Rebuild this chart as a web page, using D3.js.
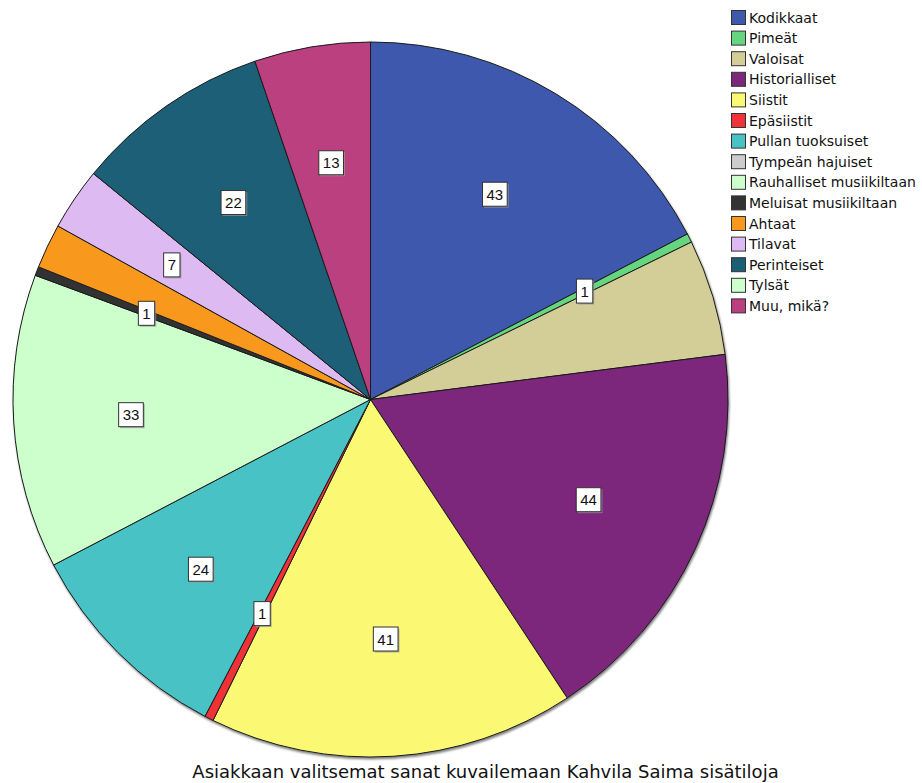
<!DOCTYPE html>
<html><head><meta charset="utf-8">
<script src="https://cdn.jsdelivr.net/npm/d3@7"></script>
<style>body{margin:0;background:#fff;} svg text{font-family:"DejaVu Sans",sans-serif;} svg text.lbl{font-family:Arial,"Liberation Sans",sans-serif;}</style>
</head><body><svg id="c" width="922" height="783"></svg>
<script>
const categories = ["Kodikkaat","Pimeät","Valoisat","Historialliset","Siistit","Epäsiistit","Pullan tuoksuiset","Tympeän hajuiset","Rauhalliset musiikiltaan","Meluisat musiikiltaan","Ahtaat","Tilavat","Perinteiset","Tylsät","Muu, mikä?"];
const values = [43,1,13,44,41,1,24,0,33,1,5,7,22,0,13];
const colors = ["#3e58ac","#66d57f","#d3ce97","#7b287c","#fbf873","#ef3338","#48c2c5","#cccccc","#ccffcc","#333333","#f8981d","#ddbaf1","#1a5f76","#ccffcc","#bb3f7f"];
const showLabel = [true,true,false,true,true,true,true,false,true,true,false,true,true,false,true];
const title = "Asiakkaan valitsemat sanat kuvailemaan Kahvila Saima sisätiloja";

const svg = d3.select("#c");
const cx = 370.5, cy = 399.5, R = 357.5, LR = 240;

const defs = svg.append("defs");
const f = defs.append("filter").attr("id","sh").attr("x","-10%").attr("y","-10%").attr("width","120%").attr("height","120%");
f.append("feGaussianBlur").attr("in","SourceAlpha").attr("stdDeviation",1.2).attr("result","b");
f.append("feOffset").attr("in","b").attr("dx",1).attr("dy",1.5).attr("result","o");
f.append("feComponentTransfer").attr("in","o").attr("result","o2").append("feFuncA").attr("type","linear").attr("slope",0.5);
const m = f.append("feMerge"); m.append("feMergeNode").attr("in","o2"); m.append("feMergeNode").attr("in","SourceGraphic");

const data = categories.map((c,i)=>({cat:c, v:values[i], color:colors[i], show:showLabel[i]}));
const pie = d3.pie().sort(null).value(d=>d.v).startAngle(0).endAngle(2*Math.PI);
const arcs = pie(data);
const arc = d3.arc().innerRadius(0).outerRadius(R);
const labelArc = d3.arc().innerRadius(LR).outerRadius(LR);

const g = svg.append("g").attr("transform",`translate(${cx},${cy})`);
const pg = g.append("g").attr("filter","url(#sh)");
pg.selectAll("path").data(arcs.filter(a=>a.data.v>0)).join("path")
  .attr("d",arc).attr("fill",d=>d.data.color).attr("stroke","#1a1a1a").attr("stroke-width",1).attr("stroke-linejoin","round");

const lg = g.append("g");
arcs.filter(a=>a.data.v>0 && a.data.show).forEach(a=>{
  const [x,y] = labelArc.centroid(a);
  const t = lg.append("text").attr("class","lbl").attr("x",x).attr("y",y+5.5).attr("text-anchor","middle")
    .attr("font-size",15).attr("fill","#111").text(a.data.v);
  const w = t.node().getComputedTextLength();
  const bw = w+8, bh = 24;
  lg.insert("rect","text").attr("x",x-bw/2+1.5).attr("y",y-bh/2+1.5).attr("width",bw).attr("height",bh).attr("fill","#9a9a9a").attr("opacity",0.7);
  lg.insert("rect","text").attr("x",x-bw/2).attr("y",y-bh/2).attr("width",bw).attr("height",bh).attr("fill","#fff").attr("stroke","#333").attr("stroke-width",1);
});

// legend
const leg = svg.append("g").attr("transform","translate(731,10)");
const step = 20.6;
const rows = leg.selectAll("g").data(data).join("g").attr("transform",(d,i)=>`translate(0,${i*step})`);
rows.append("rect").attr("x",0.5).attr("y",0.5).attr("width",14).attr("height",14).attr("fill",d=>d.color).attr("stroke","#333").attr("stroke-width",1);
rows.append("text").attr("x",18).attr("y",12.5).attr("font-size",14).attr("fill","#111").text(d=>d.cat);

svg.append("text").attr("x",485.5).attr("y",778).attr("text-anchor","middle").attr("font-size",18).attr("fill","#111").text(title);
</script></body></html>
